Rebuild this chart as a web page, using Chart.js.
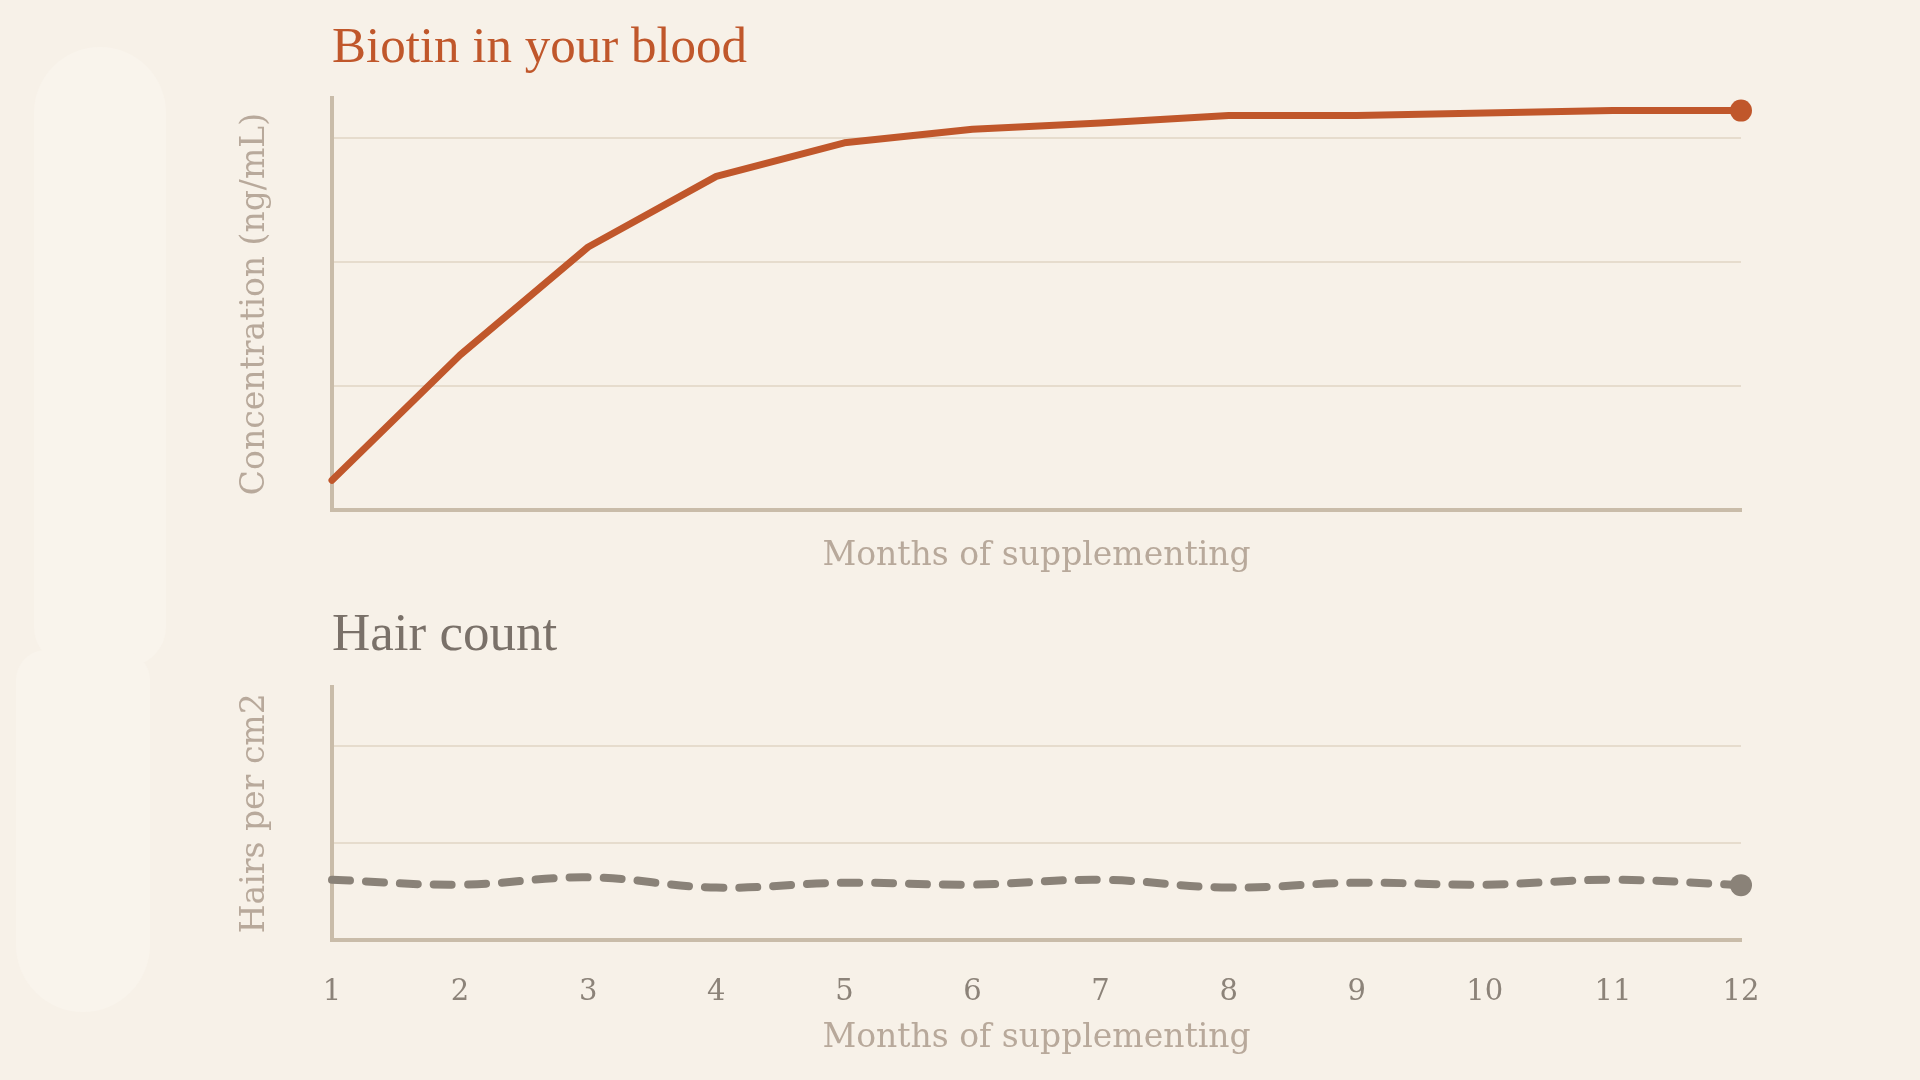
<!DOCTYPE html>
<html>
<head>
<meta charset="utf-8">
<script src="https://cdn.jsdelivr.net/npm/chart.js@4.4.1/dist/chart.umd.min.js"></script>
<style>
  html, body { margin: 0; padding: 0; background: #F7F1E8; }
  body { width: 1920px; height: 1080px; position: relative; overflow: hidden; }
  .stroke { position: absolute; background: #F9F4EC; }
  #s1 { left: 34px; top: 47px; width: 132px; height: 620px; border-radius: 66px 66px 40px 40px; }
  #s2 { left: 16px; top: 650px; width: 134px; height: 362px; border-radius: 30px 30px 67px 67px; }
  .box { position: absolute; left: 0; width: 1920px; }
  #topBox { top: 0; height: 600px; }
  #botBox { top: 600px; height: 480px; }
</style>
</head>
<body>
<div class="stroke" id="s1"></div>
<div class="stroke" id="s2"></div>
<div class="box" id="topBox"><canvas id="biotinChart"></canvas></div>
<div class="box" id="botBox"><canvas id="hairChart"></canvas></div>
<script>
// months on the x axis
const months = ['1', '2', '3', '4', '5', '6', '7', '8', '9', '10', '11', '12'];
// biotin concentration (gridline units)
const biotinLevel = [0.24, 1.25, 2.12, 2.69, 2.96, 3.07, 3.12, 3.18, 3.18, 3.20, 3.22, 3.22];
// hair count (gridline units)
const hairCount = [0.62, 0.57, 0.645, 0.54, 0.59, 0.57, 0.62, 0.54, 0.59, 0.57, 0.62, 0.565];

const ORANGE = '#C0572B';
const GREY = '#8A8278';
const AXIS = '#C9BCA9';
const GRID = '#E6DCCD';
const LABEL = '#B8A99B';
const SERIF = "'Liberation Serif', serif";
const WIDE = "'DejaVu Serif', serif";

const gridColor = (ctx) => (ctx.tick && ctx.tick.value > 0 && Number.isInteger(ctx.tick.value)) ? GRID : 'rgba(0,0,0,0)';
const lastOnly = (r) => (ctx) => ctx.dataIndex === months.length - 1 ? r : 0;

function yScale(max, title) {
  return {
    min: 0, max: max,
    ticks: { display: false, stepSize: 1 },
    grid: { color: gridColor, lineWidth: 2, drawTicks: false },
    border: { display: true, color: AXIS, width: 4 },
    title: { display: true, text: title, color: LABEL, font: { family: WIDE, size: 33 }, padding: 0 },
    afterFit: (s) => { s.width = 96; }
  };
}

Chart.defaults.animation = false;
Chart.defaults.responsive = true;
Chart.defaults.maintainAspectRatio = false;

new Chart(document.getElementById('biotinChart'), {
  type: 'line',
  data: {
    labels: months,
    datasets: [{
      data: biotinLevel,
      borderColor: ORANGE,
      backgroundColor: ORANGE,
      borderWidth: 7,
      borderCapStyle: 'round',
      borderJoinStyle: 'round',
      tension: 0,
      pointRadius: lastOnly(11),
      pointHoverRadius: 0,
      pointBorderWidth: 0,
      clip: false
    }]
  },
  options: {
    layout: { padding: { left: 236, right: 179, top: 0, bottom: 24 } },
    plugins: {
      legend: { display: false },
      tooltip: { enabled: false },
      title: {
        display: true, text: 'Biotin in your blood', align: 'start', fullSize: false,
        color: ORANGE, font: { family: SERIF, size: 51, weight: 'normal' },
        padding: { top: 18, bottom: 19 }
      }
    },
    scales: {
      x: {
        offset: false,
        ticks: { display: false },
        grid: { display: false },
        border: { display: true, color: AXIS, width: 4 },
        title: { display: true, text: 'Months of supplementing', color: LABEL, font: { family: WIDE, size: 33 }, padding: 0 },
        afterFit: (s) => { s.height = 66; }
      },
      y: yScale(3.32, 'Concentration (ng/mL)')
    }
  }
});

new Chart(document.getElementById('hairChart'), {
  type: 'line',
  data: {
    labels: months,
    datasets: [{
      data: hairCount,
      borderColor: GREY,
      backgroundColor: GREY,
      borderWidth: 8,
      borderDash: [18, 16],
      borderCapStyle: 'round',
      tension: 0.4,
      pointRadius: lastOnly(11),
      pointHoverRadius: 0,
      pointBorderWidth: 0,
      clip: false
    }]
  },
  options: {
    layout: { padding: { left: 236, right: 179, top: 0, bottom: 22 } },
    plugins: {
      legend: { display: false },
      tooltip: { enabled: false },
      title: {
        display: true, text: 'Hair count', align: 'start', fullSize: false,
        color: '#7A7169', font: { family: SERIF, size: 53, weight: 'normal' },
        padding: { top: 4, bottom: 19 }
      }
    },
    scales: {
      x: {
        offset: false,
        ticks: { color: '#8C8379', font: { family: WIDE, size: 29 }, padding: 35, maxRotation: 0, autoSkip: false },
        grid: { display: false, drawTicks: false },
        border: { display: true, color: AXIS, width: 4 },
        title: { display: true, text: 'Months of supplementing', color: LABEL, font: { family: WIDE, size: 33 }, padding: 0 },
        afterFit: (s) => { s.height = 118; }
      },
      y: yScale(2.61, 'Hairs per cm2')
    }
  }
});
</script>
</body>
</html>
